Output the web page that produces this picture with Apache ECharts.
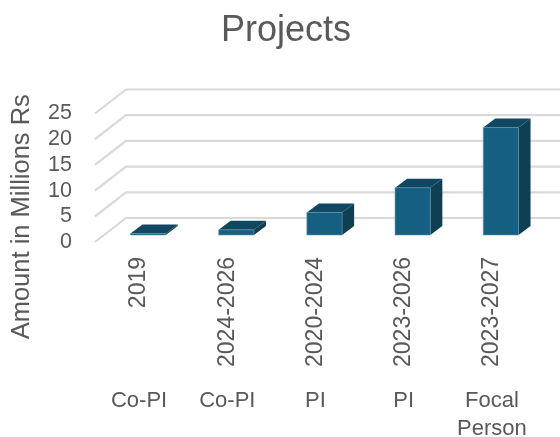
<!DOCTYPE html>
<html><head><meta charset="utf-8">
<style>html,body{margin:0;padding:0;background:#fff}#c{width:560px;height:437px}</style>
<script src="https://cdn.jsdelivr.net/npm/echarts@6/dist/echarts.min.js"></script>
</head><body><div id="c"></div>
<script>
const years = ['2019','2024-2026','2020-2024','2023-2026','2023-2027'];
const roles = ['Co-PI','Co-PI','PI','PI','Focal\nPerson'];
const values = [0.3,1.0,4.4,9.2,20.9];
const yTicks = [0,5,10,15,20,25];
const FONT = '"Liberation Sans",sans-serif';
const TEXT = '#595959';
const chart = echarts.init(document.getElementById('c'));
function wall(params, api){
  const p = api.coord([0, api.value(0)]);
  const half = api.size([1,0])[0]/2;
  const x0 = p[0]-half, y0 = p[1], bx = x0+31, by = y0-24;
  return {type:'polyline', silent:true, shape:{points:[[x0,y0],[bx,by],[api.getWidth(),by]]},
    style:{fill:null, stroke:'#d9d9d9', lineWidth:2.2}};
}
function bar(params, api){
  const i = api.value(0), v = api.value(1);
  const c = api.coord([i,v]), b = api.coord([i,0]);
  const w = api.size([1,0])[0]*0.4;
  const ox = 9, oy = -7, dx = 12, dy = -9;
  const l = c[0]+ox-w/2, r = l+w, t = c[1]+oy, g = b[1]+oy;
  return {type:'group', children:[
    {type:'polygon', shape:{points:[[r,t],[r+dx,t+dy],[r+dx,g+dy],[r,g]]}, style:{fill:'#0e3f52'}},
    {type:'polygon', shape:{points:[[l,t],[l+dx,t+dy],[r+dx,t+dy],[r,t]]}, style:{fill:'#104862'}},
    {type:'rect', shape:{x:l,y:t,width:w,height:g-t}, style:{fill:'#156082', stroke:'#5d93ab', lineWidth:0.6}}
  ]};
}
chart.setOption({
  animation:false,
  backgroundColor:'#fff',
  title:{text:'Projects', left:281, top:8, textAlign:'center',
    textStyle:{fontFamily:FONT, fontSize:36, fontWeight:'normal', color:TEXT}},
  grid:{left:95, width:441, top:113.5, height:128.5, outerBoundsMode:'none'},
  xAxis:[
    {type:'category', data:years, position:'bottom',
      axisLine:{show:false}, axisTick:{show:false},
      axisLabel:{interval:0, rotate:90, margin:15, padding:[3,0,0,0], fontFamily:FONT, fontSize:23, color:TEXT}},
    {type:'category', data:roles, position:'bottom',
      axisLine:{show:false}, axisTick:{show:false},
      axisLabel:{interval:0, margin:145, fontFamily:FONT, fontSize:22, lineHeight:28, color:TEXT}}
  ],
  yAxis:{type:'value', min:0, max:25, interval:5,
    name:'Amount in Millions Rs', nameLocation:'middle', nameGap:60, nameRotate:90,
    nameTextStyle:{fontFamily:FONT, fontSize:25.5, color:TEXT, padding:[0,78,0,0]},
    axisLine:{show:false}, axisTick:{show:false}, splitLine:{show:false},
    axisLabel:{margin:23, fontFamily:FONT, fontSize:21.5, color:TEXT}},
  series:[
    {type:'custom', name:'Gridlines', coordinateSystem:'cartesian2d', clip:false, z:1, silent:true,
      data:yTicks.map(v=>[v]), encode:{y:0}, renderItem:wall},
    {type:'custom', name:'Amount', coordinateSystem:'cartesian2d', clip:false, z:2,
      data:values.map((v,i)=>[i,v]), encode:{x:0,y:1}, renderItem:bar}
  ]
});
</script></body></html>
